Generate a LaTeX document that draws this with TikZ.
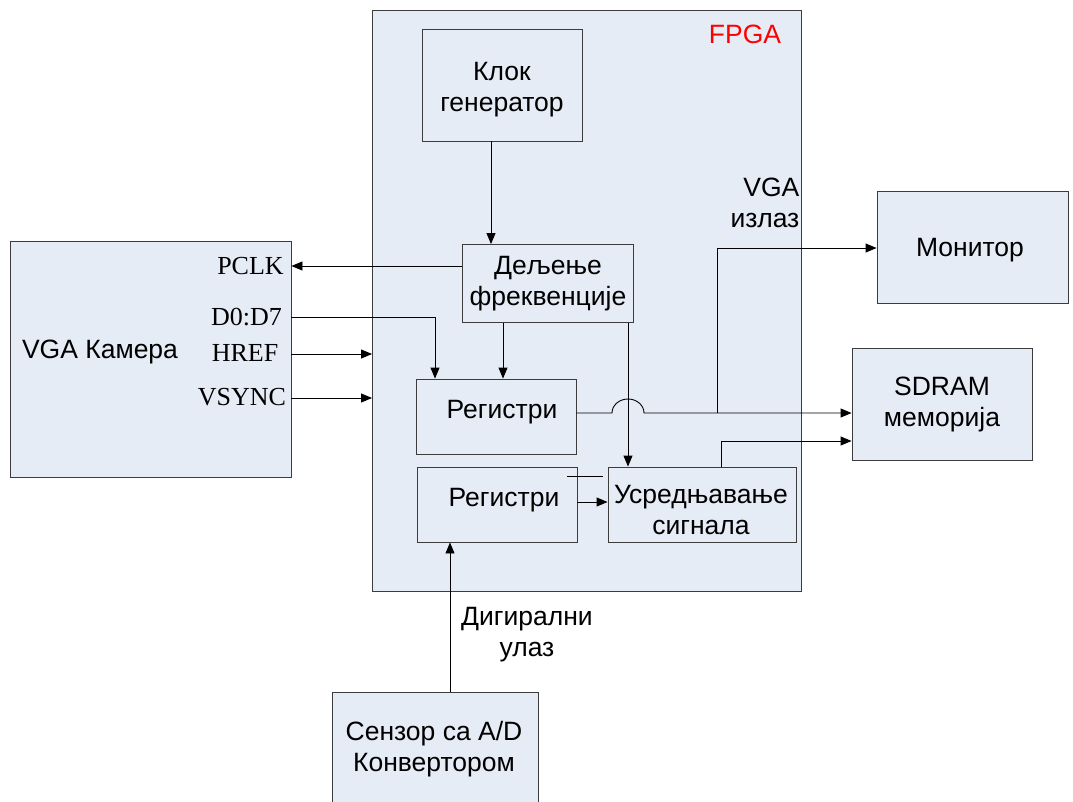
\documentclass[tikz,border=0pt]{standalone}
\usepackage{fontspec}
\setmainfont{Liberation Sans}
\newfontfamily\serifface{Liberation Serif}
\usetikzlibrary{arrows.meta}
\definecolor{boxfill}{RGB}{230,236,246}
\definecolor{boxline}{RGB}{60,60,60}
\tikzset{
  blk/.style={draw=boxline, fill=boxfill, line width=0.9pt, rectangle, inner sep=0pt},
  txt/.style={font=\fontsize{26.5}{31}\selectfont, align=center, inner sep=0pt},
  pin/.style={font=\serifface\fontsize{26}{30}\selectfont, inner sep=0pt},
  wire/.style={draw=black, line width=0.9pt},
  arr/.style={wire, -{Triangle[length=11pt,width=9pt]}}
}
\begin{document}
\begin{tikzpicture}[x=1pt, y=-1pt]
\useasboundingbox (0,0) rectangle (1073,801);

% FPGA enclosure
\node[blk, minimum width=429pt, minimum height=581pt] (fpga) at (587,300.5) {};
\node[txt, text=red] (fpgalbl) at (745,34) {FPGA};

% blocks inside the FPGA
\node[blk, minimum width=160pt, minimum height=112pt] (clk) at (502,85) {};
\node[txt] (clkt) at (502,90) {Клок\\генератор};
\node[blk, minimum width=171pt, minimum height=78pt, txt] (div) at (548,283.5) {Дељење\\фреквенције};
\node[blk, minimum width=160pt, minimum height=75pt] (reg1) at (496,416.5) {};
\node[txt] (reg1t) at (502,412) {Регистри};
\node[blk, minimum width=160pt, minimum height=75pt] (reg2) at (497,504.5) {};
\node[txt] (reg2t) at (504,500) {Регистри};
\node[blk, minimum width=188pt, minimum height=75pt] (avg) at (702,504.5) {};
\node[txt] (avgt) at (701,510) {Усредњавање\\сигнала};

% external devices
\node[blk, minimum width=281pt, minimum height=236pt] (cam) at (150.5,359) {};
\node[txt] (camt) at (100,352) {VGA Камера};
\node[pin] (pclk) at (250.5,266) {PCLK};
\node[pin] (d07) at (246.5,317) {D0:D7};
\node[pin] (href) at (245,353) {HREF};
\node[pin] (vsync) at (242,397) {VSYNC};

\node[blk, minimum width=191pt, minimum height=112pt] (mon) at (972.5,247) {};
\node[txt] (mont) at (970,250) {Монитор};
\node[blk, minimum width=180pt, minimum height=112pt, txt] (sdram) at (942,404) {SDRAM\\меморија};
\node[blk, minimum width=206pt, minimum height=120pt] (sens) at (435,752) {};
\node[txt] (senst) at (434,749) {Сензор са A/D\\Конвертором};

% signal labels
\node[txt, align=right] (vgaout) at (765,203) {VGA\\излаз};
\node[txt] (digin) at (527,635) {Дигирални\\улаз};

% reference coordinates for wire routing
\coordinate (c1) at (491,0);
\coordinate (yP) at (0,266);
\coordinate (xD) at (435,317);
\coordinate (yH) at (0,354);
\coordinate (yV) at (0,398);
\coordinate (c2) at (503,0);
\coordinate (c3) at (628,0);
\coordinate (j1) at (612,413);
\coordinate (br) at (717,413);
\coordinate (ym) at (0,248);
\coordinate (c4) at (721,0);
\coordinate (ys) at (0,441);
\coordinate (yr) at (0,502);
\coordinate (c5) at (450,0);
\coordinate (s1) at (567,476);
\coordinate (s2) at (603,476);

% connections
\draw[arr] (clk.south -| c1) -- (div.north -| c1);
\draw[arr] (div.west |- yP) -- (cam.east |- yP);
\draw[arr] (cam.east |- xD) -- (xD) -- (xD |- reg1.north);
\draw[arr] (cam.east |- yH) -- (fpga.west |- yH);
\draw[arr] (cam.east |- yV) -- (fpga.west |- yV);
\draw[arr] (div.south -| c2) -- (reg1.north -| c2);
\draw[arr] (div.south -| c3) -- (avg.north -| c3);
\draw[arr] (reg1.east |- j1) -- (j1) arc[start angle=180, end angle=0, x radius=16pt, y radius=14pt] -- (sdram.west |- j1);
\draw[arr] (br) -- (br |- ym) -- (mon.west |- ym);
\draw[arr] (avg.north -| c4) -- (c4 |- ys) -- (sdram.west |- ys);
\draw[arr] (reg2.east |- yr) -- (avg.west |- yr);
\draw[arr] (sens.north -| c5) -- (reg2.south -| c5);
\draw[wire] (s1) -- (s2);
\end{tikzpicture}
\end{document}
